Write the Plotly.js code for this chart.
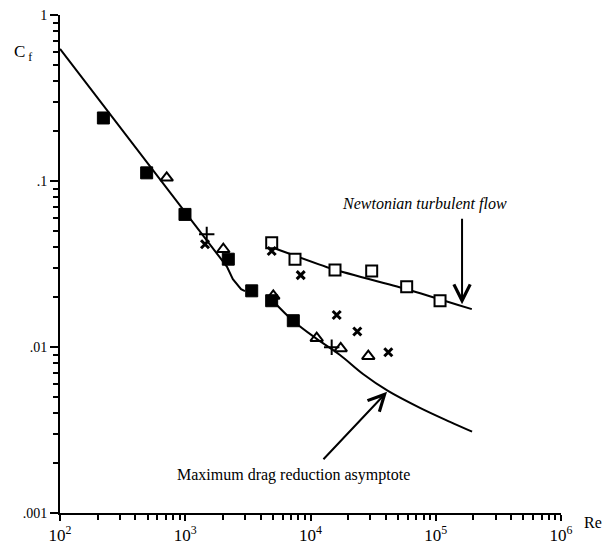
<!DOCTYPE html>
<html>
<head>
<meta charset="utf-8">
<script src="https://cdn.plot.ly/plotly-3.0.1.min.js"></script>
<style>html,body{margin:0;padding:0;background:#fff}#chart{width:614px;height:545px}</style>
</head>
<body>
<div id="chart"></div>
<script>
// Laminar line
var laminarRe = [100, 2150, 2400, 2790, 3000];
var laminarCf = [0.625, 0.0305, 0.0256, 0.0223, 0.0217];
// Maximum drag reduction asymptote
var mdrRe = [4930, 7250, 11200, 17200, 26240, 41570, 74800, 130000, 195000];
var mdrCf = [0.0192, 0.0144, 0.0112, 0.00895, 0.00688, 0.00544, 0.0043, 0.00354, 0.00309];
// Newtonian turbulent flow
var newtRe = [4900, 15200, 58600, 194000];
var newtCf = [0.0399, 0.0294, 0.0223, 0.0169];
// Data points
var filledSqRe = [222, 492, 995, 2207, 3393, 4898, 7291];
var filledSqCf = [0.2397, 0.112, 0.0629, 0.0338, 0.0218, 0.019, 0.0144];
var openSqRe = [4900, 7520, 15690, 30800, 58600, 108200];
var openSqCf = [0.0425, 0.0338, 0.0291, 0.0287, 0.0231, 0.019];
var triRe = [711, 2013, 5046, 11206, 17420, 28940];
var triCf = [0.1045, 0.0388, 0.0203, 0.0113, 0.0098, 0.0088];
var plusRe = [1484, 14760];
var plusCf = [0.0477, 0.00996];
var crossRe = [1438, 4900, 8352, 16190, 23640, 41800];
var crossCf = [0.0416, 0.0379, 0.0271, 0.0156, 0.0124, 0.0093];
// Tick labels
var xTickVals = [100, 1000, 10000, 100000, 1000000];
var xTickText = ['10<sup>2</sup>', '10<sup>3</sup>', '10<sup>4</sup>', '10<sup>5</sup>', '10<sup>6</sup>'];
var yTickVals = [0.001, 0.01, 0.1, 1];
var yTickText = ['.001', '.01', '.1', '1'];

var serif = 'Liberation Serif';
var lineStyle = {color: '#000', width: 2};

var traces = [
  {x: laminarRe, y: laminarCf, mode: 'lines', line: lineStyle, hoverinfo: 'skip'},
  {x: mdrRe, y: mdrCf, mode: 'lines', line: {color: '#000', width: 2, shape: 'spline', smoothing: 1}, hoverinfo: 'skip'},
  {x: newtRe, y: newtCf, mode: 'lines', line: {color: '#000', width: 2, shape: 'spline', smoothing: 0.5}, hoverinfo: 'skip'},
  {x: triRe, y: triCf, mode: 'markers', marker: {symbol: 'triangle-up-open', size: 11, color: '#000', line: {width: 2, color: '#000'}}},
  {x: filledSqRe, y: filledSqCf, mode: 'markers', marker: {symbol: 'square', size: 12, color: '#000', line: {width: 1, color: '#000'}}},
  {x: openSqRe, y: openSqCf, mode: 'markers', marker: {symbol: 'square', size: 11, color: '#fff', line: {width: 2, color: '#000'}}},
  {x: plusRe, y: plusCf, mode: 'markers', marker: {symbol: 'cross-thin-open', size: 11, color: '#000', line: {width: 2, color: '#000'}}},
  {x: crossRe, y: crossCf, mode: 'markers', marker: {symbol: 'x-thin-open', size: 8, color: '#000', line: {width: 3, color: '#000'}}}
];

var layout = {
  width: 614, height: 545,
  margin: {l: 60, r: 53, t: 15, b: 32},
  paper_bgcolor: '#fff', plot_bgcolor: '#fff',
  showlegend: false,
  font: {family: serif, size: 13, color: '#000'},
  xaxis: {
    type: 'log', range: [2, 6], showgrid: false, zeroline: false,
    showline: true, linecolor: '#000', linewidth: 2,
    tickmode: 'array', tickvals: xTickVals, ticktext: xTickText,
    ticks: 'outside', ticklen: 6, tickwidth: 2, tickcolor: '#000',
    tickfont: {family: serif, size: 17, color: '#000'},
    minor: {tickmode: 'linear', dtick: 'D1', ticks: 'outside', ticklen: 5, tickwidth: 2, tickcolor: '#000', showgrid: false}
  },
  yaxis: {
    type: 'log', range: [-3, 0], showgrid: false, zeroline: false,
    showline: true, linecolor: '#000', linewidth: 2,
    tickmode: 'array', tickvals: yTickVals, ticktext: yTickText,
    ticks: 'outside', ticklen: 8, tickwidth: 2, tickcolor: '#000',
    tickfont: {family: serif, size: 14, color: '#000'},
    minor: {tickmode: 'linear', dtick: 'D1', ticks: 'outside', ticklen: 5, tickwidth: 2, tickcolor: '#000', showgrid: false}
  },
  annotations: [
    {xref: 'paper', yref: 'paper', x: -0.096, y: 0.95, xanchor: 'left', text: 'C<sub> f</sub>', showarrow: false,
     font: {family: serif, size: 17, color: '#000'}},
    {xref: 'paper', yref: 'paper', x: 1.086, y: -0.040, text: 'Re', showarrow: false,
     font: {family: serif, size: 16, color: '#000'}},
    {xref: 'x', yref: 'y', x: 4.914, y: -1.141, text: '<i>Newtonian turbulent flow</i>', showarrow: false,
     font: {family: serif, size: 16, color: '#000'}},
    {xref: 'x', yref: 'y', x: 3.868, y: -2.769, text: 'Maximum drag reduction asymptote', showarrow: false,
     font: {family: serif, size: 16, color: '#000'}},
    {xref: 'x', yref: 'y', axref: 'x', ayref: 'y', x: 5.21, y: -1.742, ax: 5.21, ay: -1.219, text: '',
     showarrow: true, arrowhead: 5, arrowsize: 1.6, arrowwidth: 2, arrowcolor: '#000', standoff: 0},
    {xref: 'x', yref: 'y', axref: 'x', ayref: 'y', x: 4.611, y: -2.270, ax: 4.092, ay: -2.685, text: '',
     showarrow: true, arrowhead: 5, arrowsize: 1.6, arrowwidth: 2, arrowcolor: '#000', standoff: 0}
  ]
};

Plotly.newPlot('chart', traces, layout, {displayModeBar: false, staticPlot: true});
</script>
</body>
</html>
